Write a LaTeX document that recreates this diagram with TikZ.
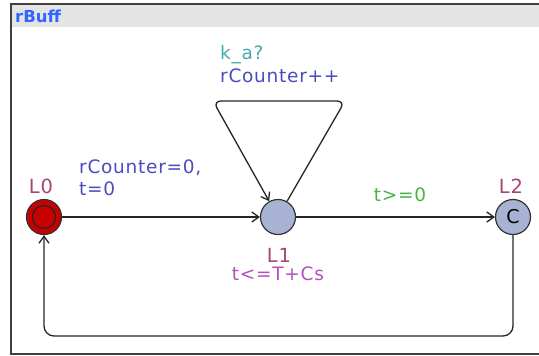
\documentclass[tikz,border=0pt]{standalone}
\usepackage{fontspec}
\setmainfont{DejaVu Sans}
\newfontfamily\uf[LetterSpace=4]{DejaVu Sans}
\usetikzlibrary{arrows.meta}
\definecolor{headgray}{RGB}{228,228,228}
\definecolor{framec}{RGB}{64,64,64}
\definecolor{titlec}{RGB}{50,100,255}
\definecolor{locblue}{RGB}{168,178,210}
\definecolor{locred}{RGB}{200,0,0}
\definecolor{namec}{RGB}{165,70,115}
\definecolor{invc}{RGB}{180,80,190}
\definecolor{guardc}{RGB}{70,180,70}
\definecolor{syncc}{RGB}{70,170,170}
\definecolor{updc}{RGB}{75,75,190}
\begin{document}
\begin{tikzpicture}[x=1pt,y=-1pt,
  loc/.style={circle, draw=black!80, line width=1.2pt, minimum size=35pt, inner sep=0pt, fill=locblue},
  lbl/.style={font=\uf\fontsize{18.5}{22}\selectfont, inner sep=0pt, align=left},
  edge/.style={draw=black!85, line width=1.3pt, -{Straight Barb[length=7pt,width=10pt]}},
]
\useasboundingbox (0,0) rectangle (539,356);
\fill[headgray] (11,4) rectangle (545,27);
\draw[framec, line width=1.5pt] (545,4) -- (11,4) -- (11,354) -- (545,354);
\node[anchor=west, inner sep=0pt, text=titlec, font=\bfseries\fontsize{16.5}{20}\selectfont] (title) at (15,16) {rBuff};

\node[loc, fill=locred] (L0) at (44,217) {};
\draw[black!85, line width=1.2pt] (L0.center) circle (11.5);
\node[loc] (L1) at (278,217) {};
\node[loc, font=\uf\fontsize{19}{20}\selectfont] (L2) at (513,217) {C};

\node[lbl, text=namec, font=\uf\fontsize{19.5}{22}\selectfont] (n0) at (41,186) {L0};
\node[lbl, text=namec, font=\uf\fontsize{19.5}{22}\selectfont] (n1) at (279,255) {L1};
\node[lbl, text=namec, font=\uf\fontsize{19.5}{22}\selectfont] (n2) at (511,186) {L2};
\node[lbl, text=invc] (inv1) at (278,274) {t<=T+Cs};

\coordinate (c1) at (513,336);
\coordinate (c2) at (44,336);
\coordinate (s1) at (345,101);
\coordinate (s2) at (213,101);

\draw[edge] (L0) -- (L1);
\draw[edge] (L1) -- (L2);
\draw[edge, rounded corners=10pt] (L2) -- (c1) -- (c2) -- (L0);
\draw[edge, rounded corners=8pt] (L1) -- (s1) -- (s2) -- (L1);

\node[lbl, text=updc, anchor=north west] (u01) at (79,160) {rCounter=0,\\t=0};
\node[lbl, text=guardc] (g12) at (400,195) {t>=0};
\node[lbl, text=syncc, anchor=west] (sy) at (220,55) {k\_a?};
\node[lbl, text=updc, anchor=west] (u11) at (220,76) {rCounter++};
\end{tikzpicture}
\end{document}
